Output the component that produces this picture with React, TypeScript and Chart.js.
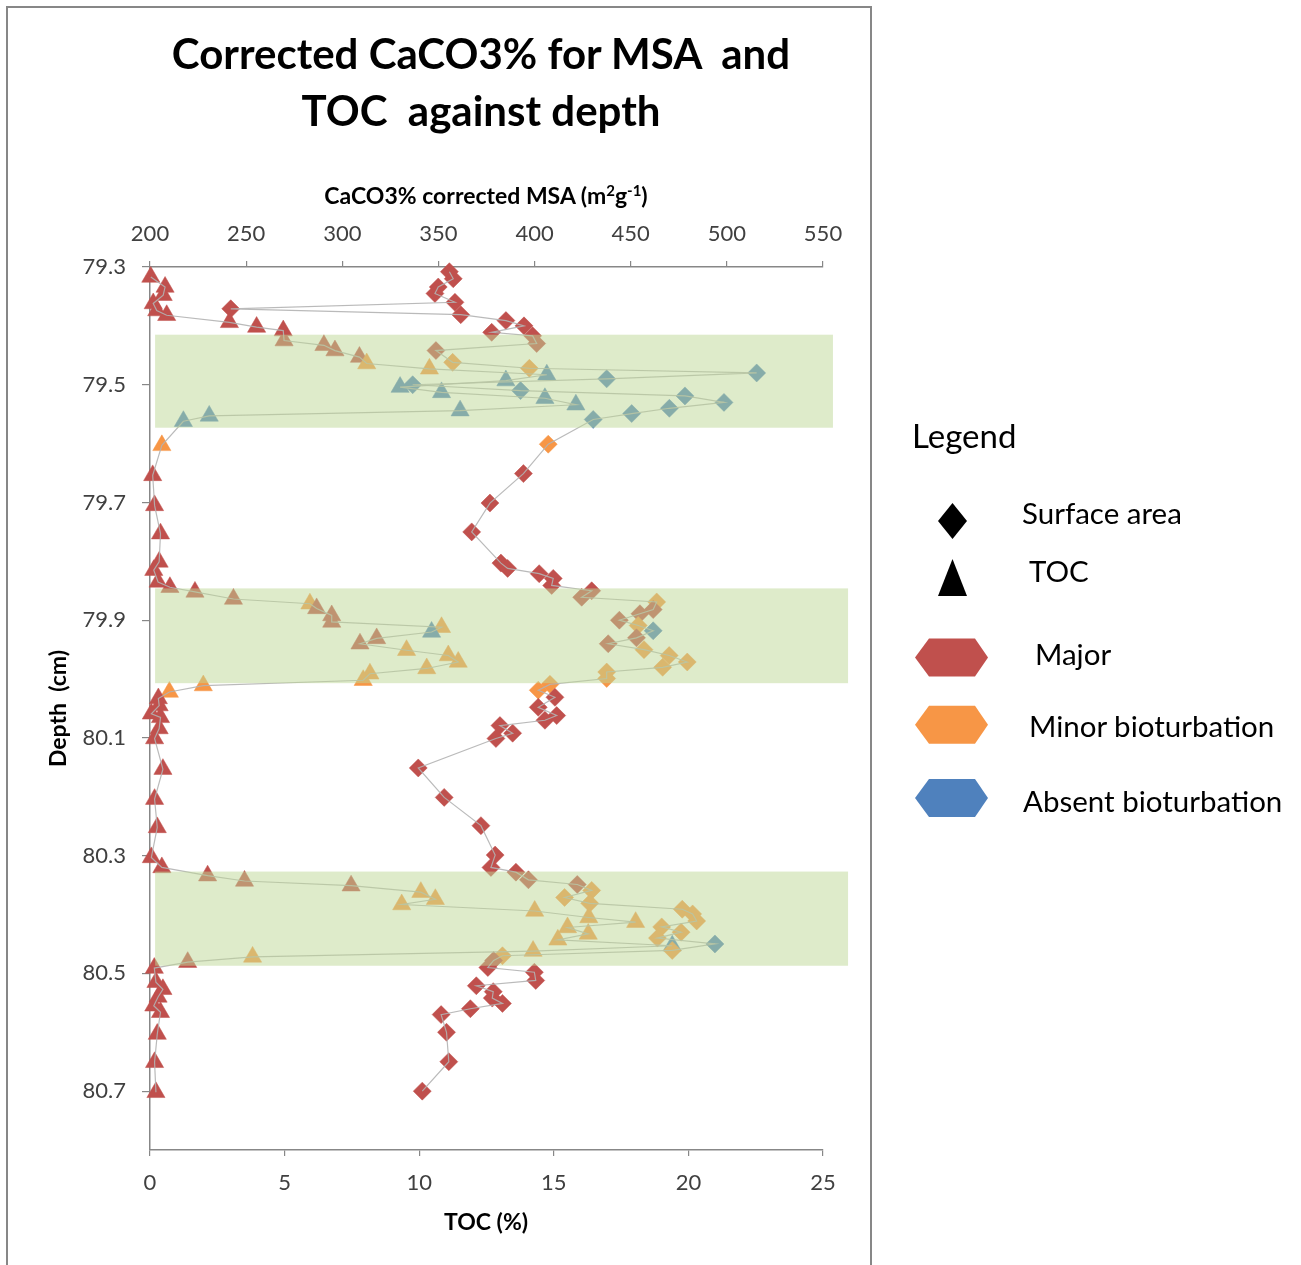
import React, { useEffect, useRef } from "react";
import { Chart, registerables } from "chart.js";
Chart.register(...registerables);

// ---- TOC (%) samples ----
const tocDepth = [79.317,79.334,79.348,79.362,79.374,79.382,79.394,79.402,79.408,79.425,79.433,79.442,79.453,79.464,79.473,79.483,79.493,79.504,79.513,79.523,79.534,79.544,79.553,79.562,79.603,79.654,79.705,79.753,79.801,79.815,79.835,79.844,79.852,79.864,79.872,79.880,79.892,79.903,79.912,79.920,79.931,79.940,79.951,79.960,79.971,79.982,79.991,80.002,80.011,80.022,80.033,80.045,80.059,80.065,80.084,80.101,80.153,80.204,80.252,80.303,80.320,80.334,80.343,80.351,80.362,80.374,80.383,80.394,80.405,80.413,80.422,80.433,80.443,80.453,80.462,80.472,80.481,80.491,80.515,80.527,80.540,80.555,80.566,80.603,80.651,80.702];
const tocValue = [0.03,0.56,0.49,0.12,0.25,0.62,2.95,3.96,4.95,4.98,6.46,6.87,7.78,8.05,10.38,14.74,13.22,9.29,10.83,14.67,15.82,11.52,2.2,1.24,0.44,0.1,0.17,0.39,0.34,0.14,0.3,0.74,1.67,3.1,5.94,6.19,6.75,6.75,10.83,10.46,8.42,7.8,9.53,11.08,11.45,10.28,8.17,7.92,1.98,0.72,0.31,0.34,0.05,0.39,0.34,0.17,0.48,0.17,0.27,0.05,0.44,2.14,3.51,7.47,10.06,10.6,9.35,14.29,16.3,18.04,15.51,16.28,15.15,19.4,14.23,3.81,1.4,0.16,0.22,0.48,0.3,0.14,0.39,0.27,0.17,0.22];
const tocClass = ["M","M","M","M","M","M","M","M","M","M","M","M","M","N","N","A","A","A","A","A","A","A","A","A","N","M","M","M","M","M","M","M","M","M","N","M","M","M","N","A","M","M","N","N","N","N","N","N","N","N","M","M","M","M","M","M","M","M","M","M","M","M","M","M","N","N","N","N","N","N","N","N","N","A","N","N","M","M","M","M","M","M","M","M","M","M"];

// ---- Corrected MSA (m2/g) samples ----
const msaDepth = [79.308,79.320,79.334,79.345,79.360,79.371,79.381,79.391,79.400,79.411,79.417,79.430,79.442,79.462,79.472,79.480,79.490,79.500,79.510,79.519,79.530,79.540,79.549,79.559,79.601,79.651,79.701,79.750,79.803,79.812,79.821,79.829,79.841,79.850,79.861,79.869,79.882,79.889,79.900,79.909,79.918,79.930,79.940,79.950,79.960,79.971,79.980,79.988,79.999,80.009,80.019,80.031,80.048,80.062,80.070,80.079,80.092,80.101,80.151,80.201,80.249,80.299,80.320,80.328,80.341,80.349,80.359,80.371,80.381,80.391,80.399,80.411,80.421,80.430,80.440,80.450,80.461,80.470,80.478,80.490,80.498,80.512,80.521,80.531,80.542,80.551,80.560,80.570,80.600,80.650,80.700];
const msaValue = [355.7,357.7,349.9,348.2,358.6,242.0,361.6,385.1,394.5,377.7,399.0,401.1,348.7,357.4,397.3,515.5,437.5,336.6,392.7,478.2,498.5,470.1,450.5,430.5,407.1,394.2,376.8,367.3,382.5,386.0,402.4,409.7,408.9,429.7,424.5,463.5,461.7,454.8,444.1,453.9,461.7,453.0,438.3,456.9,470.0,479.4,466.6,437.5,437.5,408.0,401.9,410.6,401.9,411.5,405.4,382.0,388.6,379.9,339.5,353.0,372.1,379.5,377.3,390.3,396.8,422.2,429.7,415.6,428.7,476.8,482.2,484.3,466.1,476.2,463.9,493.8,471.6,383.3,378.7,375.7,399.9,400.6,369.7,378.5,378.0,383.3,366.6,351.4,354.2,355.4,341.6];
const msaClass = ["M","M","M","M","M","M","M","M","M","M","M","M","M","N","N","A","A","A","A","A","A","A","A","A","N","M","M","M","M","M","M","M","M","M","M","N","M","M","M","N","A","M","M","N","N","N","N","N","N","N","N","M","M","M","M","M","M","M","M","M","M","M","M","M","M","M","N","N","N","N","N","N","N","N","N","A","N","N","M","M","M","M","M","M","M","M","M","M","M","M","M"];

// ---- axes / bands ----
const depthTicks = [79.3, 79.5, 79.7, 79.9, 80.1, 80.3, 80.5, 80.7];
const depthRange = [79.3, 80.8];
const tocRange = [0, 25];
const msaRange = [200, 550];
const bandTop = [79.415, 79.846, 80.327];
const bandBottom = [79.573, 80.007, 80.487];
const bandLeft = [0.19, 0.19, 0.19];
const bandRight = [25.37, 25.93, 25.93];

const classLabels = ["Major", "Minor bioturbation", "Absent bioturbation"];
const classColors: Record<string, string> = { M: "#C0504D", N: "#F79646", A: "#4F81BD" };
const legendHexColors = ["#C0504D", "#F79646", "#4F81BD"];

const FONT = "Lato, 'Open Sans', sans-serif";
const AXIS = "#878787";
const LINE = "rgba(178,178,178,0.9)";

const bandPlugin = {
  id: "bands",
  afterDatasetsDraw(chart: any) {
    const { ctx } = chart;
    const y = chart.scales.y;
    const x = chart.scales.xToc;
    ctx.save();
    ctx.fillStyle = "rgba(190,215,150,0.5)";
    bandTop.forEach((t, i) => {
      const y0 = y.getPixelForValue(t);
      const y1 = y.getPixelForValue(bandBottom[i]);
      const x0 = x.getPixelForValue(bandLeft[i]);
      const x1 = x.getPixelForValue(bandRight[i]);
      ctx.fillRect(x0, y0, x1 - x0, y1 - y0);
    });
    ctx.restore();
  },
};

export default function App() {
  const ref = useRef<HTMLCanvasElement | null>(null);

  useEffect(() => {
    if (!ref.current) return;
    const tocPts = tocValue.map((v, i) => ({ x: v, y: tocDepth[i] }));
    const msaPts = msaValue.map((v, i) => ({ x: v, y: msaDepth[i] }));
    const tickFont = { family: FONT, size: 22 };
    const chart = new Chart(ref.current, {
      type: "scatter",
      data: {
        datasets: [
          {
            label: "TOC line",
            data: tocPts,
            xAxisID: "xToc",
            yAxisID: "y",
            showLine: true,
            borderColor: LINE,
            borderWidth: 1.2,
            pointRadius: 0,
            clip: false,
          },
          {
            label: "MSA line",
            data: msaPts,
            xAxisID: "xMsa",
            yAxisID: "y",
            showLine: true,
            borderColor: LINE,
            borderWidth: 1.2,
            pointRadius: 0,
            clip: false,
          },
          {
            label: "Surface area",
            data: msaPts,
            xAxisID: "xMsa",
            yAxisID: "y",
            showLine: false,
            pointStyle: "rectRot",
            pointRadius: 9,
            pointBackgroundColor: msaClass.map((c) => classColors[c]),
            pointBorderColor: msaClass.map((c) => classColors[c]),
            pointBorderWidth: 0.5,
            clip: false,
          },
          {
            label: "TOC",
            data: tocPts,
            xAxisID: "xToc",
            yAxisID: "y",
            showLine: false,
            pointStyle: "triangle",
            pointRadius: 10.5,
            pointBackgroundColor: tocClass.map((c) => classColors[c]),
            pointBorderColor: tocClass.map((c) => classColors[c]),
            pointBorderWidth: 0.5,
            clip: false,
          },
        ],
      },
      options: {
        animation: false,
        responsive: false,
        maintainAspectRatio: false,
        layout: { padding: { left: 0, right: 57, top: 0, bottom: 0 } },
        plugins: {
          legend: { display: false },
          tooltip: { enabled: false },
          title: { display: false },
        },
        scales: {
          xMsa: {
            type: "linear",
            position: "top",
            min: msaRange[0],
            max: msaRange[1],
            ticks: { stepSize: 50, color: "#404040", font: tickFont, padding: 14, maxRotation: 0 },
            grid: { drawOnChartArea: false, drawTicks: true, tickLength: 6, color: AXIS, lineWidth: 1.2 },
            border: { color: AXIS, width: 1.5 },
            afterFit: (s: any) => { s.height = 267; },
          },
          xToc: {
            type: "linear",
            position: "bottom",
            min: tocRange[0],
            max: tocRange[1],
            ticks: { stepSize: 5, color: "#404040", font: tickFont, padding: 14, maxRotation: 0 },
            grid: { drawOnChartArea: false, drawTicks: true, tickLength: 6, color: AXIS, lineWidth: 1.2 },
            border: { color: AXIS, width: 1.5 },
            afterFit: (s: any) => { s.height = 1265 - 1150; },
          },
          y: {
            type: "linear",
            position: "left",
            reverse: true,
            min: depthRange[0],
            max: depthRange[1],
            afterBuildTicks: (s: any) => { s.ticks = depthTicks.map((v) => ({ value: v })); },
            ticks: { color: "#404040", font: tickFont, padding: 16, callback: (v: any) => Number(v).toFixed(1) },
            grid: { drawOnChartArea: false, drawTicks: true, tickLength: 8, color: AXIS, lineWidth: 1.2 },
            border: { color: AXIS, width: 1.5 },
            afterFit: (s: any) => { s.width = 150; },
          },
        },
      } as any,
      plugins: [bandPlugin],
    });
    return () => chart.destroy();
  }, []);

  const itemFont = 29.5;
  const itemTop = (baseline: number) => baseline - 0.887 * itemFont;
  const hexCenters = [657.5, 724.7, 798];
  const itemBaselines = [665, 737, 812];
  const itemLefts = [1035, 1029, 1023];
  const hex = (cy: number) =>
    `915,${cy} 929,${cy - 19} 975,${cy - 19} 988,${cy} 975,${cy + 19} 929,${cy + 19}`;

  const abs = (o: React.CSSProperties): React.CSSProperties => ({ position: "absolute", margin: 0, ...o });
  const supStyle: React.CSSProperties = { position: "relative", top: -8, fontSize: 15 };

  return (
    <div style={{ position: "absolute", left: 0, top: 0, width: 1301, height: 1265, overflow: "hidden", background: "#fff", fontFamily: FONT }}>
      <canvas ref={ref} width={880} height={1265} style={{ position: "absolute", left: 0, top: 0, width: 880, height: 1265 }} />
      <div style={abs({ left: 6, top: 6, width: 866, height: 1320, border: `2px solid ${AXIS}`, boxSizing: "border-box", pointerEvents: "none" })} />
      <div style={abs({ left: 0, top: 25, width: 962, textAlign: "center", fontWeight: 700, fontSize: 42, lineHeight: "57px", whiteSpace: "pre", color: "#000" })}>
        {"Corrected CaCO3% for MSA  and\nTOC  against depth"}
      </div>
      <div style={abs({ left: 186, top: 183.8, width: 600, textAlign: "center", fontWeight: 700, fontSize: 23, lineHeight: "23px", color: "#000", whiteSpace: "pre" })}>
        CaCO3% corrected MSA (m<span style={supStyle}>2</span>g<span style={supStyle}>-1</span>)
      </div>
      <div style={abs({ left: 286, top: 1209.8, width: 400, textAlign: "center", fontWeight: 700, fontSize: 23, lineHeight: "23px", color: "#000", whiteSpace: "pre" })}>
        TOC (%)
      </div>
      <div style={abs({ left: -43, top: 696.5, width: 200, height: 23, textAlign: "center", fontWeight: 700, fontSize: 23, lineHeight: "23px", color: "#000", transform: "rotate(-90deg)", whiteSpace: "pre" })}>
        {"Depth  (cm)"}
      </div>

      <svg width={1301} height={1265} style={abs({ left: 0, top: 0, pointerEvents: "none" })}>
        <polygon points="952.5,503 967,521 952.5,539 938,521" fill="#000" />
        <polygon points="952.5,559 967,596 938,596" fill="#000" />
        {hexCenters.map((cy, i) => (
          <polygon key={i} points={hex(cy)} fill={legendHexColors[i]} />
        ))}
      </svg>
      <div style={abs({ left: 912, top: 448 - 0.887 * 33, fontSize: 33, lineHeight: "33px", color: "#000" })}>Legend</div>
      <div style={abs({ left: 1022, top: itemTop(524), fontSize: itemFont, lineHeight: `${itemFont}px`, color: "#000", whiteSpace: "pre" })}>Surface area</div>
      <div style={abs({ left: 1029, top: itemTop(582), fontSize: itemFont, lineHeight: `${itemFont}px`, color: "#000" })}>TOC</div>
      {classLabels.map((t, i) => (
        <div key={t} style={abs({ left: itemLefts[i], top: itemTop(itemBaselines[i]), fontSize: itemFont, lineHeight: `${itemFont}px`, color: "#000", whiteSpace: "pre" })}>{t}</div>
      ))}
    </div>
  );
}
